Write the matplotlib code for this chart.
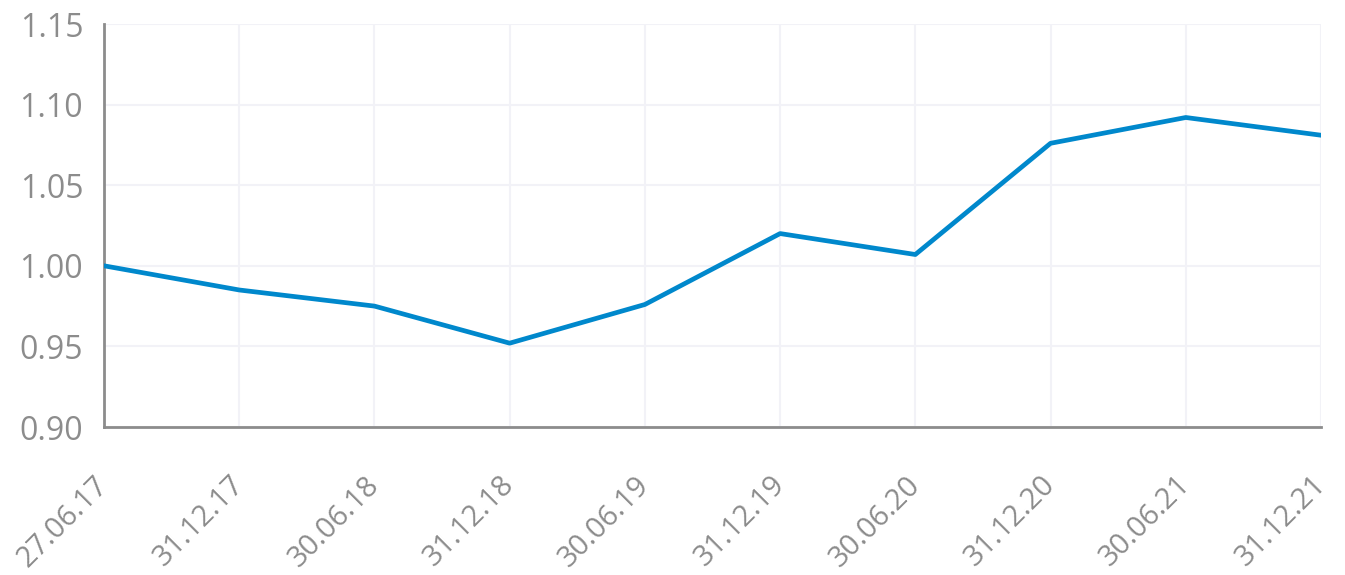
import matplotlib.pyplot as plt
import matplotlib.transforms as mtransforms

# Data
dates = ["27.06.17", "31.12.17", "30.06.18", "31.12.18", "30.06.19",
         "31.12.19", "30.06.20", "31.12.20", "30.06.21", "31.12.21"]
values = [1.000, 0.985, 0.975, 0.952, 0.976, 1.020, 1.007, 1.076, 1.092, 1.081]
yticks = [0.90, 0.95, 1.00, 1.05, 1.10, 1.15]

plt.rcParams["font.family"] = ["Open Sans", "DejaVu Sans"]

fig = plt.figure(figsize=(13.45, 5.75), dpi=100)
ax = fig.add_axes([104 / 1345, 1 - 427 / 575, (1321 - 104) / 1345, (427 - 24) / 575])

x = list(range(len(dates)))
ax.plot(x, values, color="#0088cc", linewidth=3.4, zorder=3)

ax.set_xlim(0, len(dates) - 1)
ax.set_ylim(0.90, 1.15)
ax.set_yticks(yticks)
ax.set_yticklabels([f"{v:.2f}" for v in yticks])
ax.set_xticks(x)
ax.set_xticklabels(dates, rotation=45, ha="right", va="top", rotation_mode="anchor")

ax.grid(True, color="#f2f2f7", linewidth=1.5, zorder=0)
for side in ["top", "right"]:
    ax.spines[side].set_visible(False)
for side in ["left", "bottom"]:
    ax.spines[side].set_color("#8c8c8c")
    ax.spines[side].set_linewidth(2)
ax.tick_params(axis="both", length=0, labelcolor="#8c8c8c")
ax.tick_params(axis="y", pad=15, labelsize=23)
ax.tick_params(axis="x", pad=14, labelsize=21)

# nudge rotated date labels left/down to sit like the original
shift = mtransforms.ScaledTranslation(-10 / 100, -24 / 100, fig.dpi_scale_trans)
for lbl in ax.get_xticklabels():
    lbl.set_transform(lbl.get_transform() + shift)

plt.savefig("out.png", dpi=100)
